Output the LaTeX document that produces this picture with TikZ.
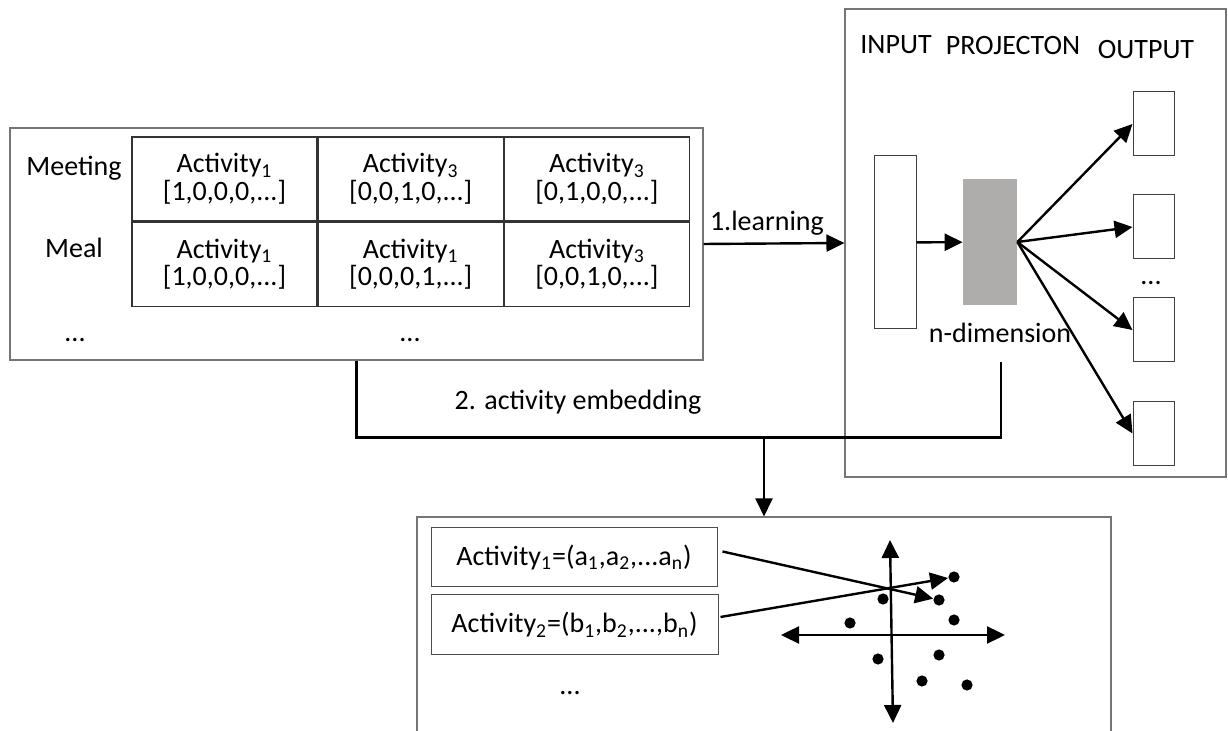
\documentclass[tikz,border=0pt]{standalone}
\usepackage{fontspec}
\setmainfont{Carlito}
\usetikzlibrary{arrows.meta,positioning}
\definecolor{projgray}{RGB}{175,173,172}
\definecolor{framegray}{RGB}{118,116,116}
\newcommand{\sub}[1]{\textsubscript{#1}}

\begin{document}
\begin{tikzpicture}[
                        x=0.5pt, y=-0.5pt,
                        font=\fontsize{14}{13.8}\selectfont,
                        node distance=0pt,
                        frame/.style={rectangle, draw=framegray, line width=0.55pt},
                        cell/.style={rectangle, draw=black!80, line width=0.6pt, align=center, inner sep=0pt, minimum width=92.5pt, minimum height=42pt},
                        layer/.style={rectangle, draw=black!75, line width=0.5pt, inner sep=0pt},
                        dot/.style={circle, fill=black, inner sep=0pt, minimum size=5.6pt},
                        conn/.style={line width=1.2pt},
                        arr/.style={conn, -{Triangle[length=9pt,width=8.5pt]}},
                        axis/.style={conn, {Triangle[length=9pt,width=8.5pt]}-{Triangle[length=9pt,width=8.5pt]}}
                    ]
                    \useasboundingbox (0,0) rectangle (1228,731);

                    % Frames
                    \node [frame, minimum width=346.5pt, minimum height=116pt] (seqbox) at (356.5,244) {};
                    \node [frame, minimum width=190.5pt, minimum height=234pt] (w2v) at (1035.5,243) {};
                    \node [frame, minimum width=347pt, minimum height=121.5pt] (embbox) at (764,638.5) {};

                    % Activity sequences
                    \node [cell] (c11) at (224.5,179) {Activity\sub{1}\\{}[1,0,0,0,...]};
                    \node [cell, right=of c11] (c12) {Activity\sub{3}\\{}[0,0,1,0,...]};
                    \node [cell, right=of c12] (c13) {Activity\sub{3}\\{}[0,1,0,0,...]};
                    \node [cell, below=of c11] (c21) {Activity\sub{1}\\{}[1,0,0,0,...]};
                    \node [cell, right=of c21] (c22) {Activity\sub{1}\\{}[0,0,0,1,...]};
                    \node [cell, right=of c22] (c23) {Activity\sub{3}\\{}[0,0,1,0,...]};
                    \node (meeting) at (74,168) {Meeting};
                    \node (meal) at (74,248) {Meal};
                    \node (rowdots) at (75,340) {...};
                    \node (celldots) at (410,340) {...};

                    % Network
                    \node (inlabel) at (896,45) {INPUT};
                    \node (projlabel) at (1013,46) {PROJECTON};
                    \node (outlabel) at (1146,50) {OUTPUT};
                    \node [layer, minimum width=21pt, minimum height=86.5pt] (input) at (895,242.5) {};
                    \node [rectangle, fill=projgray, minimum width=27pt, minimum height=63pt] (proj) at (990,242) {};
                    \node [layer, minimum width=20.5pt, minimum height=32pt] (out1) at (1153.5,124) {};
                    \node [layer, minimum width=20.5pt, minimum height=32pt] (out2) at (1153.5,227) {};
                    \node [layer, minimum width=20.5pt, minimum height=32pt] (out3) at (1153.5,330) {};
                    \node [layer, minimum width=20.5pt, minimum height=32pt] (out4) at (1153.5,433.5) {};
                    \node (outdots) at (1151,283) {...};
                    \node (ndim) at (1000,333) {n-dimension};
                    \coordinate (embout) at (1001,362);

                    % Embeddings
                    \node [layer, draw=black!70, minimum width=143pt, minimum height=29.5pt] (emb1) at (574,557.5) {Activity\sub{1}=(a\sub{1},a\sub{2},...a\sub{n})};
                    \node [layer, draw=black!70, minimum width=143.5pt, minimum height=30pt] (emb2) at (574.5,625) {Activity\sub{2}=(b\sub{1},b\sub{2},...,b\sub{n})};
                    \node (embdots) at (570,693) {...};
                    \coordinate (ytop) at (890,540);
                    \coordinate (ybot) at (893,723);
                    \coordinate (xleft) at (781,635);
                    \coordinate (xright) at (1005,635);
                    \node [dot] (d1) at (954,577) {};
                    \node [dot] (d2) at (883,599) {};
                    \node [dot] (d3) at (939,600) {};
                    \node [dot] (d4) at (850,623) {};
                    \node [dot] (d5) at (954,620) {};
                    \node [dot] (d6) at (878,659) {};
                    \node [dot] (d7) at (939,655) {};
                    \node [dot] (d8) at (922,681) {};
                    \node [dot] (d9) at (967,685) {};

                    % Connections
                    \draw [arr] (seqbox.east) -- node [above, pos=0.45] {1.learning} (w2v.west);
                    \draw [arr] (input) -- (proj);
                    \draw [arr] (proj.east) -- (out1.west);
                    \draw [arr] (proj.east) -- (out2.west);
                    \draw [arr] (proj.east) -- (out3.west);
                    \draw [arr] (proj.east) -- (out4.west);
                    \draw [conn] (seqbox.south) -- ++(0,77) coordinate (turn) -| (embout);
                    \node (emblabel) at (578,402) {2. activity embedding};
                    \draw [arr] (embbox.north |- turn) -- (embbox.north);
                    \draw [axis] (ytop) -- (ybot);
                    \draw [axis] (xleft) -- (xright);
                    \draw [arr] ([xshift=2.5pt,yshift=3pt]emb1.east) -- (d3);
                    \draw [arr] ([xshift=1pt,yshift=4pt]emb2.east) -- (d1);
                \end{tikzpicture}
\end{document}
